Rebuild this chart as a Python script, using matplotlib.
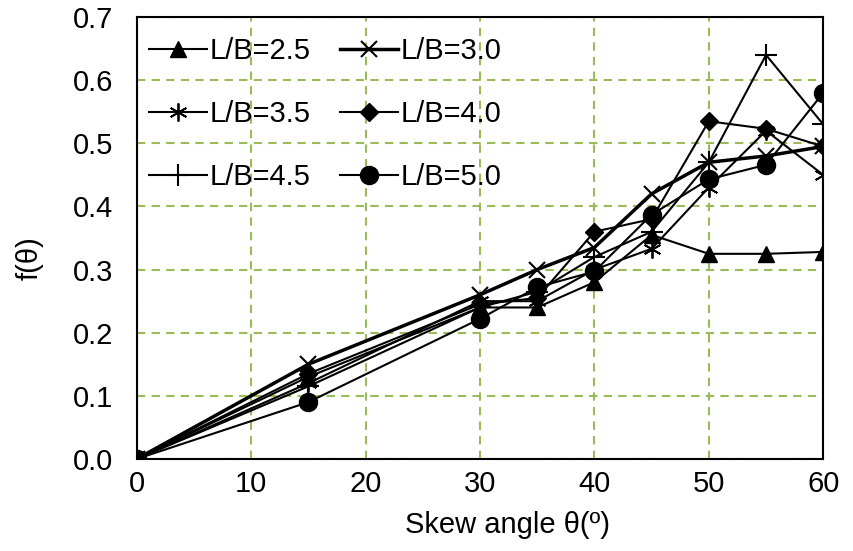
import matplotlib.pyplot as plt
import numpy as np

plt.rcParams['font.family'] = ['Liberation Sans', 'DejaVu Sans']
plt.rcParams['font.size'] = 21

# skew angles
angles = [0, 15, 30, 35, 40, 45, 50, 55, 60]

# f(theta) for each L/B ratio
lb_25 = [0, 0.13, 0.24, 0.24, 0.28, 0.355, 0.325, 0.325, 0.328]
lb_30 = [0, 0.15, 0.26, 0.30, 0.335, 0.42, 0.47, 0.48, 0.495]
lb_35 = [0, 0.12, 0.25, 0.25, 0.30, 0.333, 0.43, 0.52, 0.45]
lb_40 = [0, 0.135, 0.245, 0.255, 0.36, 0.38, 0.535, 0.523, 0.495]
lb_45 = [0, 0.115, 0.24, 0.265, 0.32, 0.36, 0.47, 0.64, 0.53]
lb_50 = [0, 0.09, 0.222, 0.272, 0.297, 0.387, 0.443, 0.466, 0.58]

labels = ["L/B=2.5", "L/B=3.0", "L/B=3.5", "L/B=4.0", "L/B=4.5", "L/B=5.0"]

fig = plt.figure(figsize=(8.54, 5.51), dpi=100)
ax = fig.add_axes([0.160, 0.167, 0.804, 0.802])

h25, = ax.plot(angles, lb_25, color='black', lw=1.5, marker='^', ms=12, label=labels[0])
h30, = ax.plot(angles, lb_30, color='black', lw=2.5, marker='x', ms=12, mew=1.5, label=labels[1])
h35, = ax.plot(angles, lb_35, color='black', lw=1.5, marker=(6, 2, 0), ms=13, mew=1.3, label=labels[2])
h40, = ax.plot(angles, lb_40, color='black', lw=1.5, marker='D', ms=9, label=labels[3])
h45, = ax.plot(angles, lb_45, color='black', lw=1.5, marker='+', ms=16, mew=1.5, label=labels[4])
h50, = ax.plot(angles, lb_50, color='black', lw=1.5, marker='o', ms=13, label=labels[5])

ax.set_xlim(0, 60)
ax.set_ylim(0, 0.7)
ax.set_xticks(np.arange(0, 61, 10))
ax.set_yticks(np.arange(0, 0.71, 0.1))
ax.yaxis.set_major_formatter(plt.FormatStrFormatter('%.1f'))
ax.tick_params(length=0)
ax.tick_params(axis='x', pad=8)
ax.tick_params(axis='y', pad=17)
ax.grid(True, color='#9bbb59', ls=(0, (4, 3)), lw=1.5)
for s in ax.spines.values():
    s.set_linewidth(1.5)
    s.set_zorder(5)

ax.set_xlabel("Skew angle θ(º)")
ax.set_ylabel("f(θ)")
ax.xaxis.set_label_coords(0.54, -0.118)
ax.yaxis.set_label_coords(-0.135, 0.455)

# row-wise legend order: (2.5, 3.0), (3.5, 4.0), (4.5, 5.0)
order = [h25, h35, h45, h30, h40, h50]
ax.legend(order, [h.get_label() for h in order], ncol=2, loc='upper left',
          bbox_to_anchor=(-0.012, 1.0), frameon=False, fontsize=21,
          handlelength=2.0, labelspacing=1.2, columnspacing=1.0, handletextpad=0.08,
          borderaxespad=0.3)

fig.savefig("out.png", dpi=100)
